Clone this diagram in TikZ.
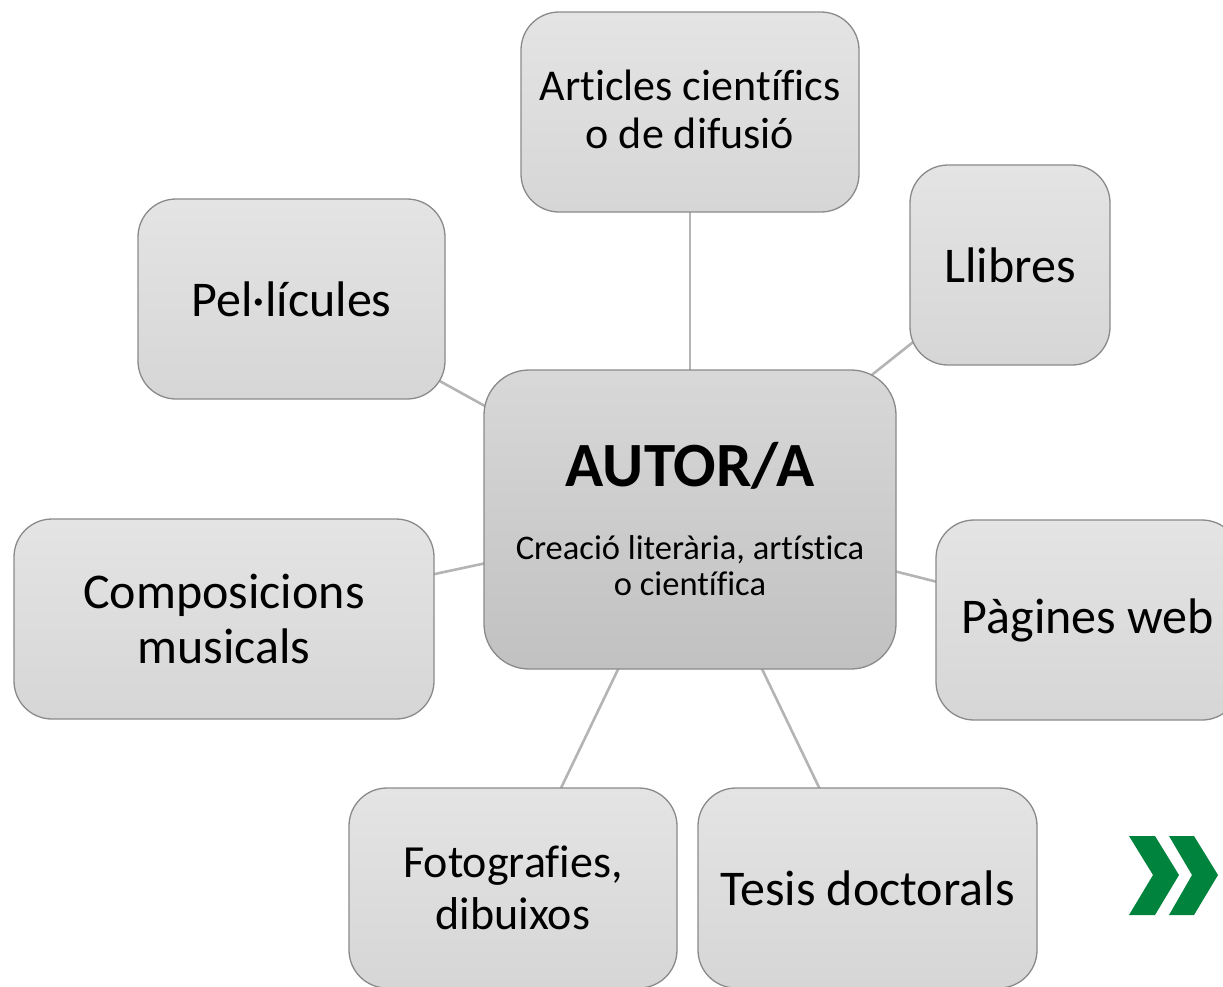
\documentclass[tikz,border=0pt]{standalone}
\usepackage{fontspec}
\setmainfont{Carlito}[Ligatures={NoCommon,NoRare}]
\usetikzlibrary{backgrounds}
\definecolor{boxtop}{HTML}{E4E4E4}
\definecolor{boxbot}{HTML}{D6D6D6}
\definecolor{maintop}{HTML}{D8D8D8}
\definecolor{mainbot}{HTML}{C1C1C1}
\definecolor{edgegray}{HTML}{8A8A8A}
\definecolor{linkgray}{HTML}{B4B4B4}
\definecolor{chevgreen}{RGB}{0,132,61}
\tikzset{
  leaf/.style={draw=edgegray, line width=1.3pt, top color=boxtop, bottom color=boxbot,
    rounded corners=38pt, inner sep=0pt, minimum height=200pt, align=center,
    font=\fontsize{50}{55}\selectfont},
  hub/.style={draw=edgegray, line width=1.3pt, top color=maintop, bottom color=mainbot,
    rounded corners=45pt, inner sep=0pt, minimum width=412pt, minimum height=299pt},
  link/.style={draw=linkgray, line width=2.6pt},
  chev/.style={fill=chevgreen, draw=none}
}
\begin{document}
\begin{tikzpicture}[x=1pt,y=-1pt]
\useasboundingbox (0,0) rectangle (1223,986);
\clip (0,0) rectangle (1223,986);
\node[leaf, minimum width=338pt] (art) at (690,112) {};
\node[align=center, inner sep=0pt, font=\fontsize{44}{48}\selectfont] (artT) at (690,109) {Articles científics\\o de difusió};
\node[leaf, minimum width=200pt] (lli) at (1010,265) {Llibres};
\node[leaf, minimum width=307pt] (pel) at (291.5,299) {Pel·lícules};
\node[hub] (aut) at (690,519.5) {};
\node[leaf, minimum width=420pt] (com) at (224,619) {Composicions\\musicals};
\node[leaf, minimum width=304pt] (pag) at (1088,620) {Pàgines web};
\node[leaf, minimum width=328pt, font=\fontsize{46}{52}\selectfont] (fot) at (513,888) {Fotografies,\\dibuixos};
\node[leaf, minimum width=339pt] (tes) at (867.5,888) {Tesis doctorals};
\node[anchor=base, inner sep=0pt, font=\fontsize{63}{69}\selectfont\bfseries] (autT) at (690,486) {AUTOR/A};
\node[anchor=base, inner sep=0pt, font=\fontsize{34.5}{38}\selectfont] (autS1) at (690,559) {Creació literària, artística};
\node[anchor=base, inner sep=0pt, font=\fontsize{34.5}{38}\selectfont] (autS2) at (690,595) {o científica};
\begin{scope}[on background layer]
\foreach \n in {art,lli,pel,com,pag,fot,tes}{
  \draw[link] (aut.center) -- (\n.center);
}
\end{scope}
\fill[chev] (1129,836) -- (1155,836) -- (1179,875) -- (1155,915) -- (1129,915) -- (1153,875) -- cycle;
\fill[chev] (1169,836) -- (1194,836) -- (1218,875) -- (1194,915) -- (1169,915) -- (1192,875) -- cycle;
\end{tikzpicture}
\end{document}
